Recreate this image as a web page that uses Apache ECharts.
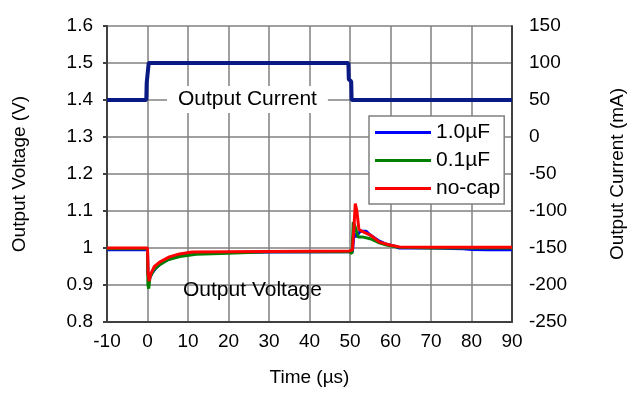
<!DOCTYPE html>
<html>
<head>
<meta charset="utf-8">
<script src="https://cdn.jsdelivr.net/npm/echarts@6/dist/echarts.min.js"></script>
<style>
  html, body { margin: 0; padding: 0; background: #fff; }
  #chart { width: 627px; height: 408px; }
</style>
</head>
<body>
<div id="chart"></div>
<script>
// time axis ticks (µs)
const xTicks = { min: -10, max: 90, step: 10 };
const voltTicks = { min: 0.8, max: 1.6, step: 0.1 };
const currTicks = { min: -250, max: 150, step: 50 };

const seriesNames = ["1.0µF", "0.1µF", "no-cap"];

// [time µs, volts]
const cap1u = [
  [-10, 0.995], [0, 0.995], [0.1, 0.93], [0.4, 0.915], [1, 0.93], [2, 0.945],
  [3, 0.955], [4, 0.963], [6, 0.973], [8, 0.979], [10, 0.984], [14, 0.987],
  [20, 0.988], [30, 0.989], [49.8, 0.99], [50.6, 0.99], [51, 1.04], [51.5, 1.03],
  [52.5, 1.045], [54, 1.045], [55, 1.035], [57, 1.02], [59, 1.01], [61, 1.005],
  [62, 1.0], [70, 1.0], [78, 0.998], [80, 0.996], [84, 0.995], [90, 0.995]
];
const cap100n = [
  [-10, 0.998], [0, 0.998], [0.1, 0.9], [0.3, 0.89], [0.6, 0.92], [1.5, 0.94],
  [3, 0.955], [5, 0.968], [8, 0.977], [12, 0.983], [18, 0.985], [30, 0.99],
  [49.8, 0.99], [50.5, 0.985], [50.8, 1.07], [51.2, 1.06], [52, 1.03], [53, 1.03],
  [55, 1.025], [57, 1.015], [59, 1.008], [62, 1.002], [70, 1.0], [90, 1.0]
];
const noCap = [
  [-10, 1.0], [0, 1.0], [0.15, 0.93], [0.4, 0.91], [0.8, 0.93], [1.7, 0.95],
  [3, 0.962], [5.4, 0.976], [7.9, 0.984], [11, 0.989], [20, 0.99], [49.8, 0.992],
  [50.6, 0.995], [51, 1.06], [51.3, 1.12], [51.7, 1.1], [52.2, 1.05], [53, 1.045],
  [55, 1.035], [57.3, 1.016], [59.8, 1.008], [62.2, 1.003], [70, 1.002], [90, 1.002]
];
// [time µs, mA]
const current = [
  [-10, 50], [-0.3, 50], [-0.2, 73], [0.2, 75], [0.3, 100], [49.6, 100],
  [49.7, 78], [50.3, 75], [50.4, 50], [90, 50]
];

const font = "'Liberation Sans', Arial, sans-serif";
const axisLine = { show: true, onZero: false, lineStyle: { color: "#404040", width: 2 } };
const gridLine = { show: true, lineStyle: { color: "#808080", width: 1.5 } };

const chart = echarts.init(document.getElementById("chart"));
chart.setOption({
  animation: false,
  textStyle: { fontFamily: font, color: "#000" },
  grid: { left: 107, right: 115, top: 26, bottom: 86, containLabel: false, outerBoundsMode: "none" },
  legend: {
    data: seriesNames,
    orient: "vertical",
    left: 369,
    top: 116,
    icon: "rect",
    itemWidth: 56,
    itemHeight: 3,
    itemGap: 7,
    padding: [6, 4, 5, 6],
    backgroundColor: "#fff",
    borderColor: "#808080",
    borderWidth: 1.5,
    borderRadius: 0,
    textStyle: { fontFamily: font, fontSize: 21, color: "#000" },
  },
  xAxis: {
    type: "value",
    min: xTicks.min,
    max: xTicks.max,
    interval: xTicks.step,
    name: "Time (µs)",
    nameLocation: "middle",
    nameGap: 46,
    nameTextStyle: { fontFamily: font, fontSize: 19, color: "#000" },
    axisLine: axisLine,
    axisTick: { show: false },
    axisLabel: { fontFamily: font, fontSize: 19, color: "#000", margin: 10 },
    splitLine: gridLine,
  },
  yAxis: [
    {
      type: "value",
      min: voltTicks.min,
      max: voltTicks.max,
      interval: voltTicks.step,
      name: "Output Voltage (V)",
      nameLocation: "middle",
      nameGap: 78,
      nameTextStyle: { fontFamily: font, fontSize: 19, color: "#000" },
      axisLine: axisLine,
      axisTick: { show: true, length: 4, lineStyle: { color: "#404040", width: 2 } },
      axisLabel: { fontFamily: font, fontSize: 19, color: "#000", margin: 14 },
      splitLine: gridLine,
    },
    {
      type: "value",
      position: "right",
      min: currTicks.min,
      max: currTicks.max,
      interval: currTicks.step,
      name: "Output Current (mA)",
      nameLocation: "middle",
      nameGap: 96,
      nameRotate: 90,
      nameTextStyle: { fontFamily: font, fontSize: 19, color: "#000" },
      axisLine: axisLine,
      axisTick: { show: false },
      axisLabel: { fontFamily: font, fontSize: 19, color: "#000", margin: 17 },
      splitLine: { show: false },
    },
  ],
  graphic: [
    {
      type: "text",
      left: 167,
      top: 86,
      z: 10,
      style: {
        text: "Output Current",
        font: "21px " + font,
        fill: "#000",
        backgroundColor: "#fff",
        padding: [3, 11, 3, 11],
      },
    },
    {
      type: "text",
      left: 183,
      top: 280,
      z: 10,
      style: { text: "Output Voltage", font: "21px " + font, fill: "#000" },
    },
  ],
  series: [
    {
      name: "Output Current",
      type: "line",
      yAxisIndex: 1,
      data: current,
      showSymbol: false,
      lineStyle: { color: "#0a1a85", width: 4 },
      itemStyle: { color: "#0a1a85" },
      z: 3,
    },
    {
      name: seriesNames[0],
      type: "line",
      data: cap1u,
      showSymbol: false,
      lineStyle: { color: "#0000ff", width: 3 },
      itemStyle: { color: "#0000ff" },
      z: 4,
    },
    {
      name: seriesNames[1],
      type: "line",
      data: cap100n,
      showSymbol: false,
      lineStyle: { color: "#008000", width: 3 },
      itemStyle: { color: "#008000" },
      z: 5,
    },
    {
      name: seriesNames[2],
      type: "line",
      data: noCap,
      showSymbol: false,
      lineStyle: { color: "#ff0000", width: 3 },
      itemStyle: { color: "#ff0000" },
      z: 6,
    },
  ],
});
</script>
</body>
</html>
